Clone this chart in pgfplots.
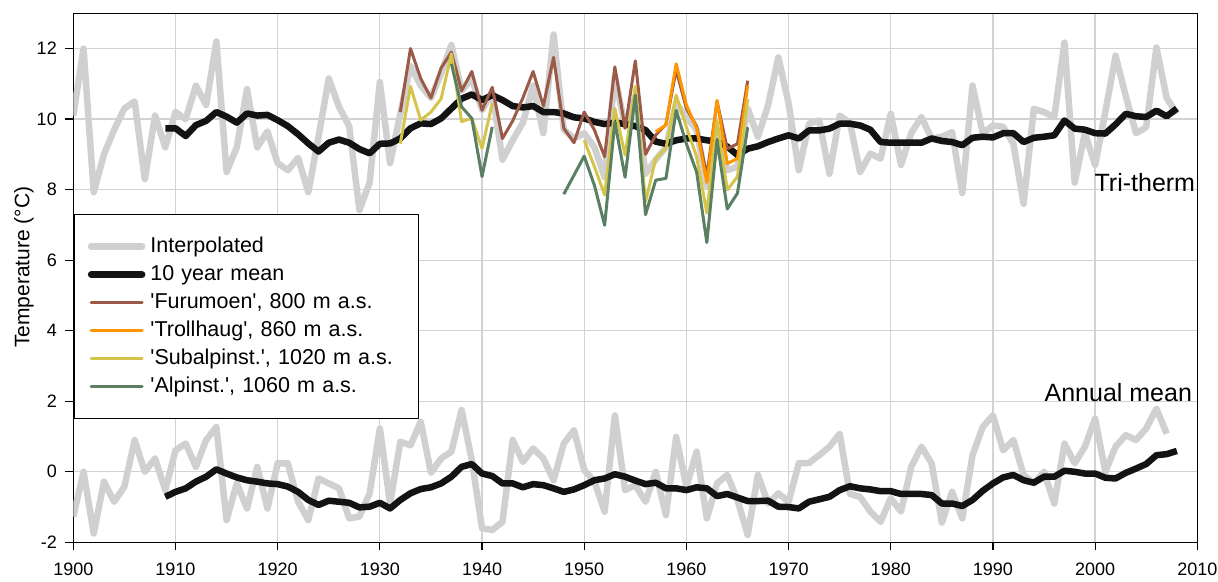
\documentclass[border=0pt]{standalone}
\usepackage{fontspec}
\setmainfont{Liberation Sans}
\usepackage{pgfplots}
\pgfplotsset{compat=1.18}
\definecolor{cgray}{HTML}{D0D0D0}
\definecolor{cblack}{HTML}{131313}
\definecolor{cbrown}{HTML}{9B5A47}
\definecolor{corange}{HTML}{FF9500}
\definecolor{cyellow}{HTML}{D4C44A}
\definecolor{cgreen}{HTML}{5A7F62}
\definecolor{cgrid}{HTML}{D2D2D2}
\newcommand{\q}{\textquotesingle}
\begin{document}
\begin{tikzpicture}
\begin{axis}[
  name=ax,
  scale only axis,
  width=1124pt, height=529pt,
  xmin=1900, xmax=2010, ymin=-2, ymax=13,
  xtick={1900,1910,...,2010},
  ytick={-2,0,2,4,6,8,10,12},
  tick pos=left,
  tick align=outside,
  major tick length=8pt,
  every tick/.style={black, line width=1.2pt},
  axis line style={black, line width=1.2pt},
  grid=major,
  major grid style={cgrid, line width=1.3pt},
  /pgf/number format/1000 sep={},
  /pgf/number format/assume math mode=true,
  tick label style={font=\fontsize{18}{18}\selectfont},
  xticklabel style={yshift=-9pt},
  yticklabel style={xshift=-5pt},
  ylabel={Temperature (°C)},
  ylabel style={font=\fontsize{21}{21}\selectfont, at={(axis description cs:-0.0439,0.52)}, anchor=center},
  unbounded coords=jump,
  line join=round,
  legend style={at={(0,0.6206)}, anchor=north west, draw=black, line width=1.2pt, fill=white,
    inner xsep=14pt, inner ysep=21.5pt, row sep=7pt, /tikz/column sep=5pt,
    nodes={inner sep=0pt, text height=16pt, text depth=5pt, text width=254pt, font=\fontsize{21.5}{21.5}\selectfont}},
  legend cell align=left,
  legend image code/.code={\draw[#1, line cap=round] (0pt,0pt) -- (51pt,0pt);},
]
% Tri-therm interpolated
\addplot[cgray, line width=6.5pt] coordinates {
(1900,10.1)(1901,12.0)(1902,7.93)(1903,9.0)(1904,9.7)(1905,10.3)(1906,10.5)(1907,8.3)(1908,10.1)(1909,9.2)
(1910,10.2)(1911,10.0)(1912,10.95)(1913,10.4)(1914,12.2)(1915,8.5)(1916,9.2)(1917,10.85)(1918,9.2)(1919,9.65)
(1920,8.75)(1921,8.55)(1922,8.9)(1923,7.93)(1924,9.5)(1925,11.15)(1926,10.35)(1927,9.8)(1928,7.42)(1929,8.2)
(1930,11.05)(1931,8.75)(1932,10.15)(1933,11.5)(1934,10.95)(1935,10.6)(1936,11.3)(1937,12.1)(1938,10.8)(1939,11.15)
(1940,10.25)(1941,10.75)(1942,8.85)(1943,9.4)(1944,9.9)(1945,10.95)(1946,9.6)(1947,12.4)(1948,9.7)(1949,9.45)
(1950,9.6)(1951,9.2)(1952,8.35)(1953,11.2)(1954,9.8)(1955,10.6)(1956,8.45)(1957,8.85)(1958,9.2)(1959,10.45)
(1960,10.05)(1961,9.7)(1962,8.1)(1963,9.7)(1964,8.55)(1965,8.65)(1966,10.3)(1967,9.5)(1968,10.4)(1969,11.75)
(1970,10.45)(1971,8.55)(1972,9.87)(1973,9.96)(1974,8.45)(1975,10.1)(1976,9.9)(1977,8.5)(1978,9.02)(1979,8.88)
(1980,10.15)(1981,8.7)(1982,9.6)(1983,10.06)(1984,9.45)(1985,9.5)(1986,9.63)(1987,7.9)(1988,10.95)(1989,9.6)
(1990,9.82)(1991,9.78)(1992,9.3)(1993,7.6)(1994,10.29)(1995,10.2)(1996,10.05)(1997,12.17)(1998,8.2)(1999,9.6)
(2000,8.7)(2001,10.2)(2002,11.8)(2003,10.65)(2004,9.6)(2005,9.77)(2006,12.03)(2007,10.6)(2008,10.15)
};
\addlegendentry{Interpolated}
% Annual interpolated
\addplot[cgray, line width=6.5pt, forget plot] coordinates {
(1900,-1.27)(1901,0.0)(1902,-1.75)(1903,-0.28)(1904,-0.85)(1905,-0.42)(1906,0.9)(1907,0.0)(1908,0.38)(1909,-0.52)
(1910,0.61)(1911,0.8)(1912,0.14)(1913,0.9)(1914,1.27)(1915,-1.37)(1916,-0.33)(1917,-1.04)(1918,0.14)(1919,-1.04)
(1920,0.24)(1921,0.24)(1922,-0.85)(1923,-1.37)(1924,-0.19)(1925,-0.33)(1926,-0.47)(1927,-1.32)(1928,-1.27)(1929,-0.61)
(1930,1.23)(1931,-0.9)(1932,0.85)(1933,0.75)(1934,1.42)(1935,-0.03)(1936,0.38)(1937,0.57)(1938,1.75)(1939,0.33)
(1940,-1.6)(1941,-1.65)(1942,-1.42)(1943,0.9)(1944,0.28)(1945,0.66)(1946,0.38)(1947,-0.24)(1948,0.8)(1949,1.18)
(1950,0.05)(1951,-0.28)(1952,-1.13)(1953,1.6)(1954,-0.52)(1955,-0.38)(1956,-0.85)(1957,0.0)(1958,-1.23)(1959,0.99)
(1960,-0.42)(1961,0.57)(1962,-1.32)(1963,-0.33)(1964,-0.09)(1965,-0.8)(1966,-1.79)(1967,-0.09)(1968,-0.9)(1969,-0.61)
(1970,-0.85)(1971,0.24)(1972,0.25)(1973,0.47)(1974,0.71)(1975,1.08)(1976,-0.63)(1977,-0.71)(1978,-1.13)(1979,-1.42)
(1980,-0.75)(1981,-1.13)(1982,0.14)(1983,0.71)(1984,0.24)(1985,-1.44)(1986,-0.57)(1987,-1.32)(1988,0.47)(1989,1.27)
(1990,1.6)(1991,0.61)(1992,0.9)(1993,-0.09)(1994,-0.33)(1995,0.0)(1996,-0.9)(1997,0.8)(1998,0.24)(1999,0.71)
(2000,1.51)(2001,0.0)(2002,0.71)(2003,1.04)(2004,0.9)(2005,1.23)(2006,1.79)(2007,1.08)
};
% Tri-therm 10 year mean
\addplot[cblack, line width=6.5pt] coordinates {
(1909,9.74)(1910,9.74)(1911,9.52)(1912,9.83)(1913,9.95)(1914,10.2)(1915,10.07)(1916,9.9)(1917,10.16)(1918,10.1)
(1919,10.12)(1920,9.97)(1921,9.8)(1922,9.57)(1923,9.31)(1924,9.08)(1925,9.33)(1926,9.42)(1927,9.33)(1928,9.15)
(1929,9.03)(1930,9.3)(1931,9.31)(1932,9.45)(1933,9.74)(1934,9.88)(1935,9.86)(1936,10.02)(1937,10.3)(1938,10.58)
(1939,10.7)(1940,10.54)(1941,10.68)(1942,10.54)(1943,10.37)(1944,10.33)(1945,10.37)(1946,10.2)(1947,10.2)(1948,10.16)
(1949,10.05)(1950,10.02)(1951,9.92)(1952,9.86)(1953,9.9)(1954,9.86)(1955,9.8)(1956,9.69)(1957,9.36)(1958,9.3)
(1959,9.4)(1960,9.45)(1961,9.45)(1962,9.4)(1963,9.36)(1964,9.22)(1965,8.98)(1966,9.16)(1967,9.23)(1968,9.35)
(1969,9.45)(1970,9.54)(1971,9.45)(1972,9.68)(1973,9.68)(1974,9.73)(1975,9.87)(1976,9.87)(1977,9.82)(1978,9.7)
(1979,9.35)(1980,9.33)(1981,9.33)(1982,9.33)(1983,9.33)(1984,9.45)(1985,9.38)(1986,9.35)(1987,9.26)(1988,9.47)
(1989,9.5)(1990,9.48)(1991,9.6)(1992,9.6)(1993,9.35)(1994,9.47)(1995,9.5)(1996,9.54)(1997,9.96)(1998,9.73)
(1999,9.7)(2000,9.6)(2001,9.59)(2002,9.85)(2003,10.15)(2004,10.08)(2005,10.06)(2006,10.24)(2007,10.08)(2008,10.3)
};
\addlegendentry{10 year mean}
% Annual 10 year mean
\addplot[cblack, line width=6.5pt, forget plot] coordinates {
(1909,-0.71)(1910,-0.57)(1911,-0.47)(1912,-0.28)(1913,-0.14)(1914,0.07)(1915,-0.05)(1916,-0.16)(1917,-0.24)(1918,-0.28)
(1919,-0.33)(1920,-0.35)(1921,-0.42)(1922,-0.57)(1923,-0.8)(1924,-0.94)(1925,-0.82)(1926,-0.85)(1927,-0.88)(1928,-1.01)
(1929,-0.99)(1930,-0.88)(1931,-1.04)(1932,-0.8)(1933,-0.61)(1934,-0.49)(1935,-0.44)(1936,-0.33)(1937,-0.14)(1938,0.14)
(1939,0.22)(1940,-0.05)(1941,-0.12)(1942,-0.33)(1943,-0.33)(1944,-0.44)(1945,-0.35)(1946,-0.38)(1947,-0.47)(1948,-0.57)
(1949,-0.5)(1950,-0.38)(1951,-0.24)(1952,-0.19)(1953,-0.07)(1954,-0.14)(1955,-0.25)(1956,-0.35)(1957,-0.31)(1958,-0.47)
(1959,-0.47)(1960,-0.52)(1961,-0.44)(1962,-0.47)(1963,-0.69)(1964,-0.63)(1965,-0.73)(1966,-0.83)(1967,-0.83)(1968,-0.82)
(1969,-0.99)(1970,-1.0)(1971,-1.04)(1972,-0.85)(1973,-0.78)(1974,-0.71)(1975,-0.52)(1976,-0.41)(1977,-0.47)(1978,-0.5)
(1979,-0.55)(1980,-0.55)(1981,-0.63)(1982,-0.63)(1983,-0.63)(1984,-0.66)(1985,-0.9)(1986,-0.9)(1987,-0.97)(1988,-0.8)
(1989,-0.54)(1990,-0.33)(1991,-0.16)(1992,-0.09)(1993,-0.24)(1994,-0.31)(1995,-0.14)(1996,-0.14)(1997,0.03)(1998,0.0)
(1999,-0.05)(2000,-0.05)(2001,-0.17)(2002,-0.19)(2003,-0.03)(2004,0.09)(2005,0.22)(2006,0.47)(2007,0.5)(2008,0.59)
};
% Furumoen
\addplot[cbrown, line width=3pt] coordinates {
(1932,10.2)(1933,12.0)(1934,11.15)(1935,10.6)(1936,11.45)(1937,11.9)(1938,10.8)(1939,11.35)(1940,10.25)(1941,10.9)
(1942,9.45)(1943,9.95)(1944,10.6)(1945,11.35)(1946,10.37)(1947,11.75)(1948,9.74)(1949,9.33)(1950,10.2)(1951,9.69)
(1952,8.93)(1953,11.48)(1954,9.74)(1955,11.65)(1956,9.0)(1957,9.55)(1958,9.85)(1959,11.4)(1960,10.3)(1961,9.8)
(1962,8.4)(1963,10.5)(1964,9.16)(1965,9.3)(1966,11.09)
};
\addlegendentry{\q Furumoen\q, 800 m a.s.}
% Trollhaug
\addplot[corange, line width=3pt] coordinates {
(1957,9.64)(1958,9.83)(1959,11.57)(1960,10.4)(1961,9.74)(1962,8.2)(1963,10.53)(1964,8.74)(1965,8.88)(1966,10.95)
};
\addlegendentry{\q Trollhaug\q, 860 m a.s.}
% Subalpinst
\addplot[cyellow, line width=3pt] coordinates {
(1932,9.3)(1933,10.93)(1934,9.97)(1935,10.2)(1936,10.58)(1937,11.85)(1938,9.93)(1939,10.02)(1940,9.17)(1941,10.45)
(1945,nan)
(1950,9.4)(1951,8.65)(1952,7.85)(1953,10.3)(1954,8.98)(1955,10.93)(1956,7.65)(1957,8.88)(1958,9.17)(1959,10.68)
(1960,9.78)(1961,8.93)(1962,7.34)(1963,9.95)(1964,7.99)(1965,8.37)(1966,10.57)
};
\addlegendentry{\q Subalpinst.\q, 1020 m a.s.}
% Alpinst
\addplot[cgreen, line width=3pt] coordinates {
(1937,11.57)(1938,10.35)(1939,10.02)(1940,8.37)(1941,9.78)
(1945,nan)
(1948,7.87)(1949,8.41)(1950,8.95)(1951,8.12)(1952,6.99)(1953,9.92)(1954,8.35)(1955,10.68)(1956,7.29)(1957,8.27)
(1958,8.32)(1959,10.25)(1960,9.3)(1961,8.5)(1962,6.5)(1963,9.4)(1964,7.45)(1965,7.9)(1966,9.77)
};
\addlegendentry{\q Alpinst.\q, 1060 m a.s.}
\node[anchor=east, inner sep=0pt, font=\fontsize{25}{25}\selectfont] at (axis cs:2009.8,8.2) {Tri-therm};
\node[anchor=east, inner sep=0pt, font=\fontsize{25}{25}\selectfont] at (axis cs:2009.5,2.24) {Annual mean};
\end{axis}
\pgfresetboundingbox
\path ([shift={(-73.3pt,-38.7pt)}]ax.south west) rectangle ([shift={(20.7pt,13.3pt)}]ax.north east);
\end{tikzpicture}
\end{document}
